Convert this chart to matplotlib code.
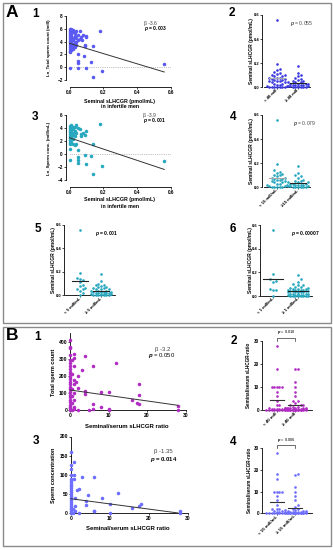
import numpy as np
import matplotlib
matplotlib.use('Agg')
import matplotlib.pyplot as plt
from matplotlib.patches import Rectangle

plt.rcParams['font.family'] = ['Liberation Sans', 'DejaVu Sans']
plt.rcParams['font.weight'] = 'bold'
plt.rcParams['mathtext.fontset'] = 'custom'
plt.rcParams['mathtext.it'] = 'Liberation Sans:italic:bold'
plt.rcParams['mathtext.rm'] = 'Liberation Sans:bold'

# ---- data: A1 Ln total sperm count vs seminal sLHCGR ----
a1_x = [0, 0, 0, 0, 0, 0, 0, 0, 0, 0, 0, 0, 0, 0,
        0.01, 0.01, 0.01, 0.01, 0.01, 0.01, 0.01, 0.01, 0.01,
        0.02, 0.02, 0.02, 0.02, 0.02, 0.02, 0.02,
        0.03, 0.03, 0.03, 0.03, 0.03,
        0.04, 0.04, 0.04, 0.04,
        0.05, 0.05, 0.05, 0.05, 0.05, 0.05,
        0.06, 0.065, 0.07, 0.075,
        0.08, 0.085, 0.09, 0.09,
        0.10, 0.10, 0.10, 0.13, 0.14, 0.14, 0.18, 0.19, 0.56]
a1_y = [5.9, 5.6, 5.3, 5.0, 4.7, 4.4, 4.1, 3.8, 3.5, 3.2, 2.9, 2.6, 2.3, -0.2,
        6.0, 5.7, 5.2, 4.8, 4.3, 3.9, 3.4, 3.0, 2.7,
        5.8, 5.5, 4.6, 4.2, 3.6, 3.3, 2.8,
        5.4, 4.9, 4.0, 3.7, 3.1,
        5.6, 4.5, 3.9, 3.5,
        5.0, 4.2, 2.0, 0.9, 0.6, -0.2,
        5.6, 4.4, 4.7, 4.3,
        5.0, 1.8, 3.5, 3.3,
        4.9, -0.2, 4.7, 0.85, 3.3, -1.5, 5.6, -0.6, 0.5]
a1_fit = (3.73, -8.0)

# ---- A3 Ln sperm conc. vs seminal sLHCGR ----
a3_x = [0, 0, 0, 0, 0, 0, 0, 0, 0, 0, 0, 0,
        0.01, 0.01, 0.01, 0.01, 0.01, 0.01, 0.01,
        0.02, 0.02, 0.02, 0.02, 0.02, 0.02,
        0.03, 0.03, 0.03, 0.03,
        0.04, 0.04, 0.04,
        0.05, 0.05, 0.05, 0.05, 0.05,
        0.06, 0.07, 0.07,
        0.08, 0.09, 0.09, 0.10, 0.10,
        0.13, 0.14, 0.14, 0.18, 0.19, 0.56]
a3_y = [4.3, 4.0, 3.7, 3.4, 3.1, 2.8, 2.5, 2.2, 1.9, 1.6, 0.7, -0.9,
        4.4, 3.9, 3.5, 3.0, 2.6, 2.1, 1.7,
        4.2, 3.8, 3.2, 2.9, 2.3, 1.5,
        4.1, 3.6, 2.7, 1.4,
        4.5, 3.3, 1.6,
        4.0, 0.6, -0.5, -0.9, -1.4,
        3.8, 3.1, 2.7,
        3.3, 2.9, -0.1, 3.5, -1.5,
        -0.3, 1.5, -3.1, 4.6, -1.9, -1.0]
a3_fit = (2.5, -8.7)

# ---- A2/A4/A5/A6 seminal sLHCGR by group ----
a2_cats = ['< 40 mill', '≥ 40 mill']
a2_g1 = [0.56, 0.19, 0.15, 0.14, 0.13, 0.12, 0.11, 0.10, 0.10, 0.09, 0.09, 0.08,
         0.08, 0.08, 0.07, 0.07, 0.06, 0.06, 0.05, 0.05, 0.05, 0.04, 0.04, 0.03,
         0.03, 0.02, 0.02, 0.01, 0.01, 0, 0, 0, 0, 0, 0, 0]
a2_g2 = [0.18, 0.12, 0.10, 0.09, 0.08, 0.07, 0.06, 0.05, 0.05, 0.04, 0.04, 0.04,
         0.03, 0.03, 0.03, 0.03, 0.02, 0.02, 0.02, 0.02, 0.01, 0.01, 0.01, 0.01,
         0, 0, 0, 0, 0, 0]

a4_cats = ['< 15 mill/mL', '≥15 mill/mL']
a4_g1 = [0.56, 0.19, 0.14, 0.13, 0.12, 0.11, 0.10, 0.10, 0.09, 0.08, 0.08, 0.07,
         0.07, 0.06, 0.06, 0.05, 0.05, 0.04, 0.04, 0.03, 0.03, 0.02, 0.02, 0.01,
         0.01, 0, 0, 0, 0, 0]
a4_g2 = [0.18, 0.12, 0.10, 0.09, 0.08, 0.06, 0.05, 0.05, 0.04, 0.04, 0.04, 0.03,
         0.03, 0.03, 0.02, 0.02, 0.02, 0.02, 0.01, 0.01, 0.01, 0, 0, 0, 0, 0, 0]

a5_cats = ['< 5 mill/mL', '≥ 5 mill/mL']
a5_g1 = [0.56, 0.19, 0.15, 0.14, 0.13, 0.11, 0.09, 0.08, 0.06, 0.05, 0.05, 0.04,
         0.02, 0]
a5_g2 = [0.18, 0.12, 0.10, 0.09, 0.09, 0.08, 0.07, 0.07, 0.06, 0.06, 0.05, 0.05,
         0.05, 0.04, 0.04, 0.04, 0.03, 0.03, 0.03, 0.03, 0.02, 0.02, 0.02, 0.02,
         0.01, 0.01, 0.01, 0.01, 0, 0, 0, 0, 0, 0, 0]

a6_cats = ['< 1 mill/mL', '≥ 1 mill/mL']
a6_g1 = [0.56, 0.19, 0.14, 0.13, 0.12, 0.06, 0.05, 0.05, 0]
a6_g2 = [0.18, 0.14, 0.12, 0.10, 0.09, 0.09, 0.08, 0.08, 0.07, 0.07, 0.06, 0.06,
         0.06, 0.05, 0.05, 0.05, 0.05, 0.04, 0.04, 0.04, 0.04, 0.04, 0.03, 0.03,
         0.03, 0.03, 0.03, 0.02, 0.02, 0.02, 0.02, 0.02, 0.01, 0.01, 0.01, 0.01,
         0.01, 0, 0, 0, 0, 0, 0, 0, 0]

# ---- B1 total sperm count vs seminal/serum ratio ----
b1_x = [0] * 25 + [1, 1, 0.5, 1, 0.5, 1, 1, 0.5, 1, 0.5, 1, 0.5, 1, 1, 0.5,
                   1.5, 2, 2, 2, 3, 4, 4, 4, 5, 6, 6, 6, 8, 8, 10, 10, 10, 12,
                   16, 17.5, 18, 18, 18, 28, 28]
b1_y = [410, 370, 365, 320, 295, 275, 255, 240, 225, 210, 195, 180, 165, 150,
        135, 120, 105, 90, 75, 60, 45, 30, 20, 10, 0,
        325, 305, 290, 255, 210, 175, 150, 125, 100, 80, 60, 40, 20, 5, 0,
        165, 198, 126, 0, 233, 315, 113, 93, 0, 256, 35, 4, 107, 16, 107, 8, 0,
        276, 58, 43, 150, 87, 33, 23, 0]
b1_fit = (117, -3.2)

# ---- B3 sperm concentration vs seminal/serum ratio ----
b3_x = [0] * 23 + [0.85, 0.85, 0.85, 1, 1, 0.5, 1, 0.5, 1.5, 2, 2, 3, 6, 4.5,
                   4, 4, 6, 6, 8, 10, 10, 12, 15.7, 17.6, 18, 28, 28]
b3_y = [160, 125, 115, 100, 90, 85, 80, 75, 70, 65, 60, 55, 50, 45, 40, 35,
        30, 25, 20, 15, 10, 5, 0,
        134, 100, 90, 40, 20, 10, 5, 0, 60, 62, 0, 95, 95, 47, 32, 21, 7, 5,
        40, 23, 0, 52, 13, 20, 24, 5, 0]
b3_fit = (38, -1.35)

# ---- B2/B4 seminal/serum ratio by group ----
b2_cats = ['< 40 mill', '≥ 40 mill']
b2_g1 = [28, 18, 10, 10, 10, 10, 10, 8, 6, 4, 2, 2, 1, 1, 1, 0.5, 0.5, 0.5,
         0.3, 0.3, 0.2, 0.2, 0.1, 0.1, 0.1, 0, 0, 0, 0]
b2_g2 = [18, 18, 12, 10, 8, 6, 4, 4, 3, 2, 2, 2, 1.5, 1.5, 1, 1, 1, 1, 0.8,
         0.8, 0.6, 0.6, 0.5, 0.5, 0.4, 0.4, 0.3, 0.3, 0.2, 0.2, 0.1, 0.1, 0.1,
         0, 0, 0, 0, 0, 0, 0, 0, 0, 0, 0]

b4_cats = ['< 15 mill/mL', '≥ 15 mill/mL']
b4_g1 = [28, 18, 16, 10, 10, 10, 10, 8, 6, 4, 2, 2, 2, 1, 1, 0.5, 0.5, 0.3,
         0.3, 0.2, 0.1, 0.1, 0, 0, 0, 0]
b4_g2 = [18, 17.5, 12, 10, 8, 6, 4, 3, 2, 2, 1.5, 1.5, 1, 1, 1, 0.8, 0.8, 0.6,
         0.6, 0.5, 0.5, 0.4, 0.4, 0.3, 0.3, 0.2, 0.2, 0.1, 0.1, 0, 0, 0, 0, 0,
         0, 0, 0, 0, 0, 0]

BLUE = '#5a5af2'
BLUE_D = '#3b3be0'
TEAL = '#27a8bf'
PURPLE = '#b02cc2'
BLUE_B = '#6e6eff'

W, H = 333, 550
fig = plt.figure(figsize=(W / 100, H / 100), dpi=100)


def box(x0, x1, y0, y1):
    return fig.add_axes([x0 / W, 1 - y1 / H, (x1 - x0) / W, (y1 - y0) / H])


def label(x, y, s, **kw):
    kw.setdefault('ha', 'center')
    kw.setdefault('va', 'center')
    fig.text(x / W, 1 - y / H, s, **kw)


def style(ax, fs, left_px=0, bottom_px=0):
    ax.patch.set_visible(False)
    for s in ('top', 'right'):
        ax.spines[s].set_visible(False)
    ax.spines['left'].set_position(('outward', left_px * 0.72))
    ax.spines['bottom'].set_position(('outward', bottom_px * 0.72))
    for s in ('left', 'bottom'):
        ax.spines[s].set_linewidth(0.6)
    ax.tick_params(length=1.3, width=0.5, labelsize=fs, pad=0.6)


def scatter_panel(ax, xs, ys, color, fit, xmax):
    ax.scatter(xs, ys, s=6.5, color=color, lw=0, clip_on=False, zorder=3)
    xx = np.array([0, xmax])
    ax.plot(xx, fit[0] + fit[1] * xx, color='#333333', lw=0.7, zorder=4,
            clip_on=False)


def swarm(ax, vals, pos, dot=2.6, half=9):
    # spread equal-ish values sideways, in display pixels
    tr = ax.transData
    cx = tr.transform((pos, 0))[0]
    placed = []
    out = []
    for v in vals:
        py = tr.transform((pos, v))[1]
        best, best_d = 0, -1
        k = 0
        cands = [0]
        while k * dot < half:
            k += 1
            cands += [k * dot, -k * dot]
        for o in cands:
            d = min([np.hypot(cx + o - qx, py - qy) for qx, qy in placed] or [99])
            if d >= dot * 0.95:
                best = o
                break
            if d > best_d:
                best, best_d = o, d
        placed.append((cx + best, py))
        out.append(tr.inverted().transform((cx + best, py))[0])
    return out


def dot_panel(ax, groups, cats, color, mean_cols, hw, fs):
    for i, vals in enumerate(groups):
        vals = sorted(vals)
        xs = swarm(ax, vals, i)
        ax.scatter(xs, vals, s=3.6, color=color, lw=0, clip_on=False, zorder=3)
        m = np.mean(vals)
        ax.plot([i - hw, i + hw], [m, m], color=mean_cols[i], lw=0.8, zorder=4)
    ax.set_xticks([0, 1])
    ax.set_xticklabels(cats, rotation=45, ha='right', va='center',
                       rotation_mode='anchor', fontsize=fs)


# ---------------- panel A ----------------
ax = box(69.5, 171, 16, 80)
ax.set_xlim(0, 0.6)
ax.set_ylim(-2, 8)
style(ax, 3.3, 4, 7)
ax.set_xticks([0, 0.2, 0.4, 0.6])
ax.set_xticklabels(['0.0', '0.2', '0.4', '0.6'])
ax.set_yticks([-2, 0, 2, 4, 6, 8])
ax.axhline(0, color='#888888', lw=0.5, ls=':', zorder=1)
scatter_panel(ax, a1_x, a1_y, BLUE, a1_fit, 0.56)

ax = box(69.5, 171, 115, 180)
ax.set_xlim(0, 0.6)
ax.set_ylim(-4, 6)
style(ax, 3.3, 4, 7)
ax.set_xticks([0, 0.2, 0.4, 0.6])
ax.set_xticklabels(['0.0', '0.2', '0.4', '0.6'])
ax.set_yticks([-4, -2, 0, 2, 4, 6])
ax.axhline(0, color='#888888', lw=0.5, ls=':', zorder=1)
scatter_panel(ax, a3_x, a3_y, TEAL, a3_fit, 0.56)

for (x0, x1, y0, y1, xl, lo, g, cats, col, mcols) in [
        (264, 310, 15, 87.3, (-0.62, 1.57), 2, (a2_g1, a2_g2), a2_cats, BLUE_D, ('#aaaaaa', '#222222')),
        (264, 310, 115, 187.3, (-0.62, 1.57), 2, (a4_g1, a4_g2), a4_cats, TEAL, ('#aaaaaa', '#222222')),
        (65, 115, 225, 295.3, (-0.72, 1.67), 1, (a5_g1, a5_g2), a5_cats, TEAL, ('#222222', '#222222')),
        (261, 312, 225, 296, (-0.48, 1.56), 1, (a6_g1, a6_g2), a6_cats, TEAL, ('#222222', '#222222'))]:
    ax = box(x0, x1, y0, y1)
    ax.set_xlim(*xl)
    ax.set_ylim(0, 0.6)
    style(ax, 3, lo, 0)
    ax.set_yticks([0, 0.2, 0.4, 0.6])
    ax.set_yticklabels(['0.0', '0.2', '0.4', '0.6'])
    dot_panel(ax, g, cats, col, mcols, 0.4, 3.1)

# ---------------- panel B ----------------
ax = box(70, 185.7, 333.1, 410)
ax.set_xlim(0, 30)
ax.set_ylim(0, 450)
style(ax, 3.6)
ax.set_xticks([0, 10, 20, 30])
ax.set_yticks([0, 100, 200, 300, 400])
scatter_panel(ax, b1_x, b1_y, PURPLE, b1_fit, 28)

ax = box(70.7, 187.7, 436.5, 513.3)
ax.set_xlim(0, 30)
ax.set_ylim(0, 200)
style(ax, 3.6)
ax.set_xticks([0, 10, 20, 30])
ax.set_yticks([0, 50, 100, 150, 200])
scatter_panel(ax, b3_x, b3_y, BLUE_B, b3_fit, 27.5)

for (y0, y1, g, cats, col, ptxt) in [
        (341, 410, (b2_g1, b2_g2), b2_cats, PURPLE, 'p = 0.010'),
        (448.3, 513.3, (b4_g1, b4_g2), b4_cats, BLUE_B, 'p = 0.006')]:
    ax = box(263, 312, y0, y1)
    ax.set_xlim(-0.75, 1.9)
    ax.set_ylim(0, 30)
    style(ax, 3.3, 1, 0)
    ax.set_yticks([0, 10, 20, 30])
    dot_panel(ax, g, cats, col, ('#333333', '#333333'), 0.38, 3.2)
    ax.plot([0, 0, 1, 1], [30.2, 31.3, 31.3, 30.2], color='#333333', lw=0.5,
            clip_on=False)
    ax.text(0.5, 32.2, '$\\it{p}$' + ptxt[1:], ha='center', va='bottom',
            fontsize=2.9, fontweight='normal')

# ---------------- text ----------------
label(12, 12.5, 'A', fontsize=12.5)
label(12, 336, 'B', fontsize=12.5)
for x, y, s in [(36, 14, '1'), (231.5, 12.5, '2'), (35, 117, '3'),
                (233.5, 117, '4'), (37.5, 229.5, '5'), (232.5, 229, '6'),
                (37.5, 337.5, '1'), (233.5, 341, '2'), (36.5, 441, '3'),
                (233.5, 442, '4')]:
    label(x, y, s, fontsize=8.5)

# axis titles
label(49, 48, 'Ln_Total sperm count (mill)', rotation=90, fontsize=3.2)
label(120, 101, 'Seminal sLHCGR (pmol/mL)', fontsize=3.8)
label(120, 107, 'in infertile men', fontsize=3.8)
label(49, 148, 'Ln_Sperm conc. (mill/mL)', rotation=90, fontsize=3.2)
label(120, 200, 'Seminal sLHCGR (pmol/mL)', fontsize=3.8)
label(120, 206, 'in infertile men', fontsize=3.8)
for x, y in [(251.5, 51), (251.5, 151), (53, 260), (250.5, 260)]:
    label(x, y, 'Seminal sLHCGR (pmol/mL)', rotation=90, fontsize=3.5)
label(53, 372, 'Total sperm count', rotation=90, fontsize=4)
label(127, 426, 'Seminal/serum sLHCGR ratio', fontsize=4.3)
label(53.3, 475, 'Sperm concentration', rotation=90, fontsize=4)
label(128, 529, 'Seminal/serum sLHCGR ratio', fontsize=4.3)
label(249, 375, 'Seminal/serum sLHCGR-ratio', rotation=90, fontsize=3.3)
label(250, 480, 'Seminal/serum sLHCGR-ratio', rotation=90, fontsize=3.3)

# statistics
label(144, 23, 'β -3.6', ha='left', fontsize=3.6, fontweight='normal', color='#444444')
label(144, 28.5, '$\\it{p}$ = 0.003', ha='left', fontsize=3.6)
label(290, 24, '$\\it{p}$ = 0.055', ha='left', fontsize=3.6, fontweight='normal', color='#444444')
label(143, 115, 'β -3.9', ha='left', fontsize=3.6, fontweight='normal', color='#444444')
label(143, 120.5, '$\\it{p}$ = 0.001', ha='left', fontsize=3.6)
label(293, 123, '$\\it{p}$ = 0.079', ha='left', fontsize=3.6, fontweight='normal', color='#444444')
label(95, 233, '$\\it{p}$ = 0.001', ha='left', fontsize=3.6)
label(291, 233, '$\\it{p}$ = 0.00007', ha='left', fontsize=3.6)
label(162.5, 349, 'β -3.2', fontsize=4.3, fontweight='normal', color='#444444')
label(162, 355, '$\\it{p}$ = 0.050', fontsize=4.3, fontweight='normal')
label(163, 451, 'β -1.35', fontsize=4.3, fontweight='normal', color='#444444')
label(164, 459.5, '$\\it{p}$ = 0.014', fontsize=4.3)

# frames around A and B
for y0, y1 in [(3, 323), (327, 546)]:
    fig.add_artist(Rectangle((3 / W, 1 - y1 / H), 328 / W, (y1 - y0) / H,
                             transform=fig.transFigure, fill=False,
                             edgecolor='#8a8a8a', lw=1.0))

fig.savefig('out.png', dpi=100)
